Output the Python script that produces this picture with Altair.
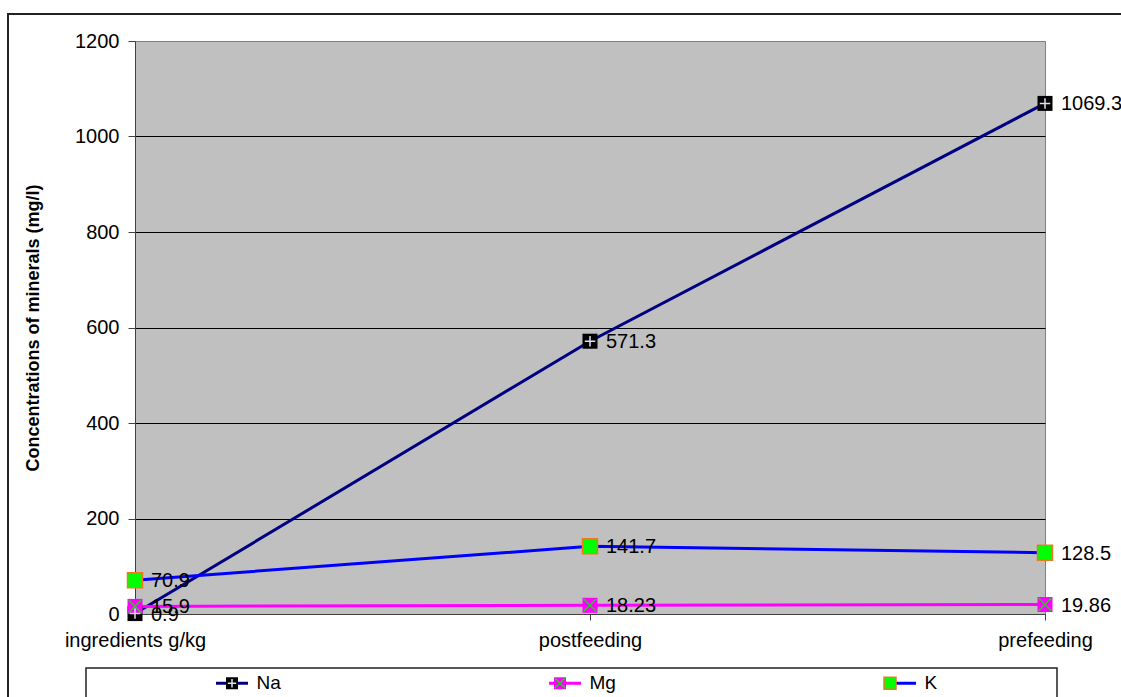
import altair as alt
import pandas as pd

categories = ["ingredients g/kg", "postfeeding", "prefeeding"]
series_names = ["Na", "Mg", "K"]
na_values = [0.9, 571.3, 1069.3]
mg_values = [15.9, 18.23, 19.86]
k_values = [70.9, 141.7, 128.5]
na_labels = ["0.9", "571.3", "1069.3"]
mg_labels = ["15.9", "18.23", "19.86"]
k_labels = ["70.9", "141.7", "128.5"]
y_ticks = [0, 200, 400, 600, 800, 1000, 1200]

rows = []
for name, vals, labs in [("Na", na_values, na_labels), ("Mg", mg_values, mg_labels), ("K", k_values, k_labels)]:
    for c, v, l in zip(categories, vals, labs):
        rows.append({"category": c, "series": name, "series_f": name, "series_g": name,
                     "value": v, "label": l})
df = pd.DataFrame(rows)

FONT = "Liberation Sans"
LEG_X = 79.5
LEG_Y = 624.5

sq_path = "M-0.343,-0.343L0.343,-0.343L0.343,0.343L-0.343,0.343Z"
plus_path = "M-0.25,0L0.25,0M0,-0.25L0,0.25"
x_path = "M-0.3,-0.3L0.3,0.3M-0.3,0.3L0.3,-0.3"
sqo_path = "M-0.358,-0.358L0.358,-0.358L0.358,0.358L-0.358,0.358Z"

base = alt.Chart(df)

x_enc = alt.X("category:N", sort=categories, scale=alt.Scale(padding=0),
              axis=alt.Axis(title=None, labelAngle=0, tickSize=6, labelPadding=10,
                            labelFontSize=20, labelFont=FONT, labelColor="black",
                            domainColor="#404040", tickColor="#404040", grid=False))
y_enc = alt.Y("value:Q", scale=alt.Scale(domain=[0, 1200], nice=False),
              axis=alt.Axis(values=y_ticks, format="d", title="Concentrations of minerals (mg/l)",
                            titleFont=FONT, titleFontSize=18, titleFontWeight="bold",
                            titleColor="black", titleX=-102, titleY=286.5,
                            titleAngle=270, titleAlign="center", titleBaseline="middle",
                            tickSize=7, labelPadding=9, labelFontSize=20, labelFont=FONT,
                            labelColor="black", domainColor="#404040", tickColor="#404040",
                            grid=True,
                            gridColor={"condition": {"test": "datum.value === 1200", "value": "#808080"},
                                       "value": "#000000"},
                            gridOpacity=1))

leg_common = dict(orient="none", legendX=LEG_X, legendY=LEG_Y, direction="horizontal",
                  title=None, padding=0, labelFont=FONT, labelFontSize=19,
                  labelOffset=7, columnPadding=261, labelLimit=200)

lines = base.mark_line(strokeWidth=3).encode(
    x=x_enc, y=y_enc,
    stroke=alt.Stroke("series:N", sort="descending",
                      scale=alt.Scale(range=["#000080", "#FF00FF", "#0000FF"]),
                      legend=alt.Legend(symbolType="stroke", symbolSize=1024,
                                        symbolStrokeWidth=3, labelColor="black", **leg_common)),
)

squares = base.mark_point(filled=True, shape=sq_path, size=1912, opacity=1, strokeWidth=0).encode(
    x=x_enc, y=y_enc,
    fill=alt.Fill("series_f:N", sort="descending",
                  scale=alt.Scale(range=["#000000", "#FF00FF", "#00FF00"]),
                  legend=alt.Legend(symbolType=sq_path, symbolSize=1225, symbolStrokeWidth=0,
                                    symbolOpacity=1, labelOpacity=0, **leg_common)),
)

glyph_legend = alt.Legend(symbolSize=1122, symbolStrokeWidth=1.5, symbolOpacity=1,
                          labelOpacity=0, **leg_common)
glyphs = base.mark_point(filled=False, size=1755, opacity=1, strokeWidth=1.5).encode(
    x=x_enc, y=y_enc,
    color=alt.Color("series_g:N", sort="descending",
                    scale=alt.Scale(range=["#E0E0F0", "#22CC22", "#F07820"]),
                    legend=glyph_legend),
    shape=alt.Shape("series_g:N", sort="descending",
                    scale=alt.Scale(range=[plus_path, x_path, sqo_path]),
                    legend=glyph_legend),
)

texts = base.mark_text(align="left", baseline="middle", dx=16, dy=1, fontSize=20,
                       font=FONT, color="black").encode(
    x=x_enc, y=y_enc, text="label:N"
)

one = pd.DataFrame({"k": [0]})
frame = alt.Chart(one).mark_rect(fill=None, stroke="#222222", strokeWidth=2).encode(
    x=alt.value(-127), x2=alt.value(1010), y=alt.value(-27), y2=alt.value(700)
)
legend_box = alt.Chart(one).mark_rect(fill="white", stroke="#222222", strokeWidth=1.5).encode(
    x=alt.value(-49), x2=alt.value(922), y=alt.value(627), y2=alt.value(700)
)

chart = alt.layer(frame, legend_box, lines, squares, glyphs, texts).properties(
    width=910, height=573,
    autosize=alt.AutoSizeParams(type="none"),
    padding={"left": 135, "top": 41, "right": 76, "bottom": 83},
    background="white",
).configure_view(fill="#C0C0C0", stroke="#808080", strokeWidth=1)

chart.save("out.html", embed_options={"renderer": "svg", "actions": False})
